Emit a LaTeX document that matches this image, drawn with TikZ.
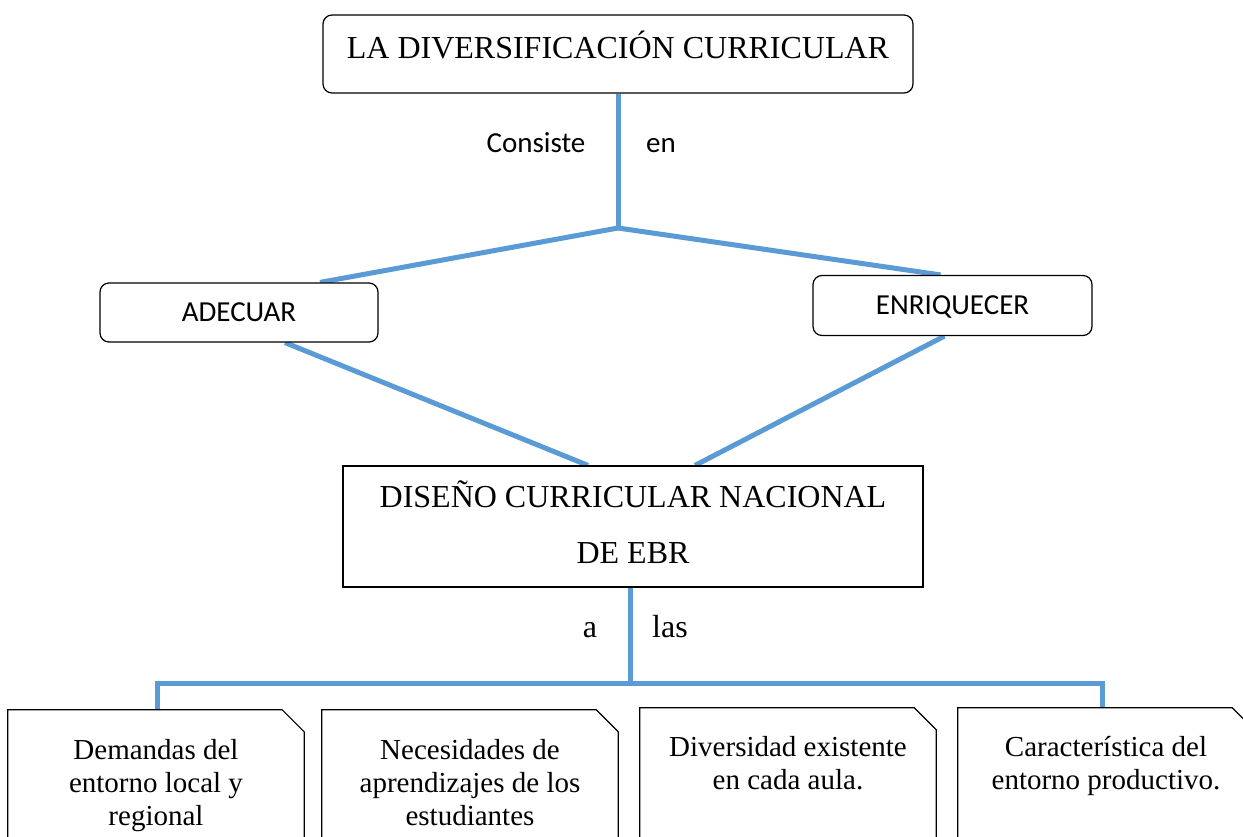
\documentclass[tikz,border=0pt]{standalone}
\usepackage{fontspec}
\setmainfont{Liberation Serif}
\newfontfamily\calib{Carlito}
\usetikzlibrary{calc,backgrounds}
\definecolor{linkblue}{RGB}{91,155,213}
\begin{document}
\begin{tikzpicture}[x=1pt,y=-1pt,
  conn/.style={draw=linkblue,line width=5pt},
  rbox/.style={draw=black,fill=white,line width=1.2pt,rounded corners=9pt,rectangle,inner sep=0pt},
  sbox/.style={draw=black,fill=white,line width=1.2pt,rectangle,inner sep=0pt},
  cbox/.style={rectangle,inner sep=0pt,minimum width=296pt,minimum height=180pt},
  cline/.style={draw=black,line width=1.2pt,line join=miter},
  serifbig/.style={font=\fontsize{32}{38}\selectfont,inner sep=0pt},
  seriftxt/.style={font=\fontsize{29}{33}\selectfont,align=center,inner sep=0pt},
  sanstxt/.style={font=\calib\fontsize{29}{34}\selectfont,inner sep=0pt,text height=19pt,text depth=0pt},
]
\clip (0,0) rectangle (1243,837);
\useasboundingbox (0,0) rectangle (1243,837);

% top box
\node[rbox,minimum width=590pt,minimum height=78pt] (top) at (618,54) {};
\node[serifbig,anchor=base] (toptxt) at (618,59) {LA DIVERSIFICACIÓN CURRICULAR};
\coordinate (j1) at (618,228);
\node[sanstxt,anchor=base] (consiste) at (536,153) {Consiste};
\node[sanstxt,anchor=base] (en) at (661,153) {en};

% middle boxes
\node[rbox,sanstxt,minimum width=278pt,minimum height=59pt] (adec) at (239,312.5) {ADECUAR};
\node[rbox,sanstxt,minimum width=279pt,minimum height=60pt] (enr) at (952.5,305.5) {ENRIQUECER};

% DCN box
\node[sbox,minimum width=580pt,minimum height=121pt] (dcn) at (633,526.5) {};
\node[serifbig,anchor=base] (dcn1) at (633,507) {DISEÑO CURRICULAR NACIONAL};
\node[serifbig,anchor=base] (dcn2) at (633,563) {DE EBR};
\coordinate (j2) at (630,683);
\node[serifbig,anchor=base] (la) at (590,637) {a};
\node[serifbig,anchor=base] (las) at (670,637) {las};

% bottom boxes (snipped top-right corner)
\node[cbox] (b1) at (156,800) {};
\node[cbox] (b2) at (470,800) {};
\node[cbox] (b3) at (788,798) {};
\node[cbox] (b4) at (1106,798) {};
\foreach \b in {b1,b2,b3,b4}{
  \draw[cline] (\b.south west) |- ($(\b.north east)+(-22,0)$) -- ($(\b.north east)+(0,22)$) -- (\b.south east);
}
\node[seriftxt,anchor=base] (t1) at (156,825) {Demandas del\\entorno local y\\regional};
\node[seriftxt,anchor=base] (t2) at (470,825) {Necesidades de\\aprendizajes de los\\estudiantes};
\node[seriftxt,anchor=base] (t3) at (788,789) {Diversidad existente\\en cada aula.};
\node[seriftxt,anchor=base] (t4) at (1106,789) {Característica del\\entorno productivo.};

\begin{scope}[on background layer]
  \draw[conn] (top.south) -- (j1);
  \draw[conn] (j1) -- ($(adec.north)+(81,0)$);
  \draw[conn] (j1) -- ($(enr.north)+(-12,0)$);
  \draw[conn] ($(adec.south)+(46,0)$) -- ($(dcn.north)+(-45,0)$);
  \draw[conn] ($(enr.south)+(-8,0)$) -- ($(dcn.north)+(62,0)$);
  \draw[conn] (dcn.south -| j2) -- (j2);
  \draw[conn] ($(b1.north)+(1,0)$) |- (j2) -| ($(b4.north)+(-4,0)$);
  \draw[conn] ($(b2.north)+(-2,0)$) -- ($(b2.north)+(-2,0)$ |- j2);
  \draw[conn] ($(b3.north)+(-6,0)$) -- ($(b3.north)+(-6,0)$ |- j2);
\end{scope}
\end{tikzpicture}
\end{document}
